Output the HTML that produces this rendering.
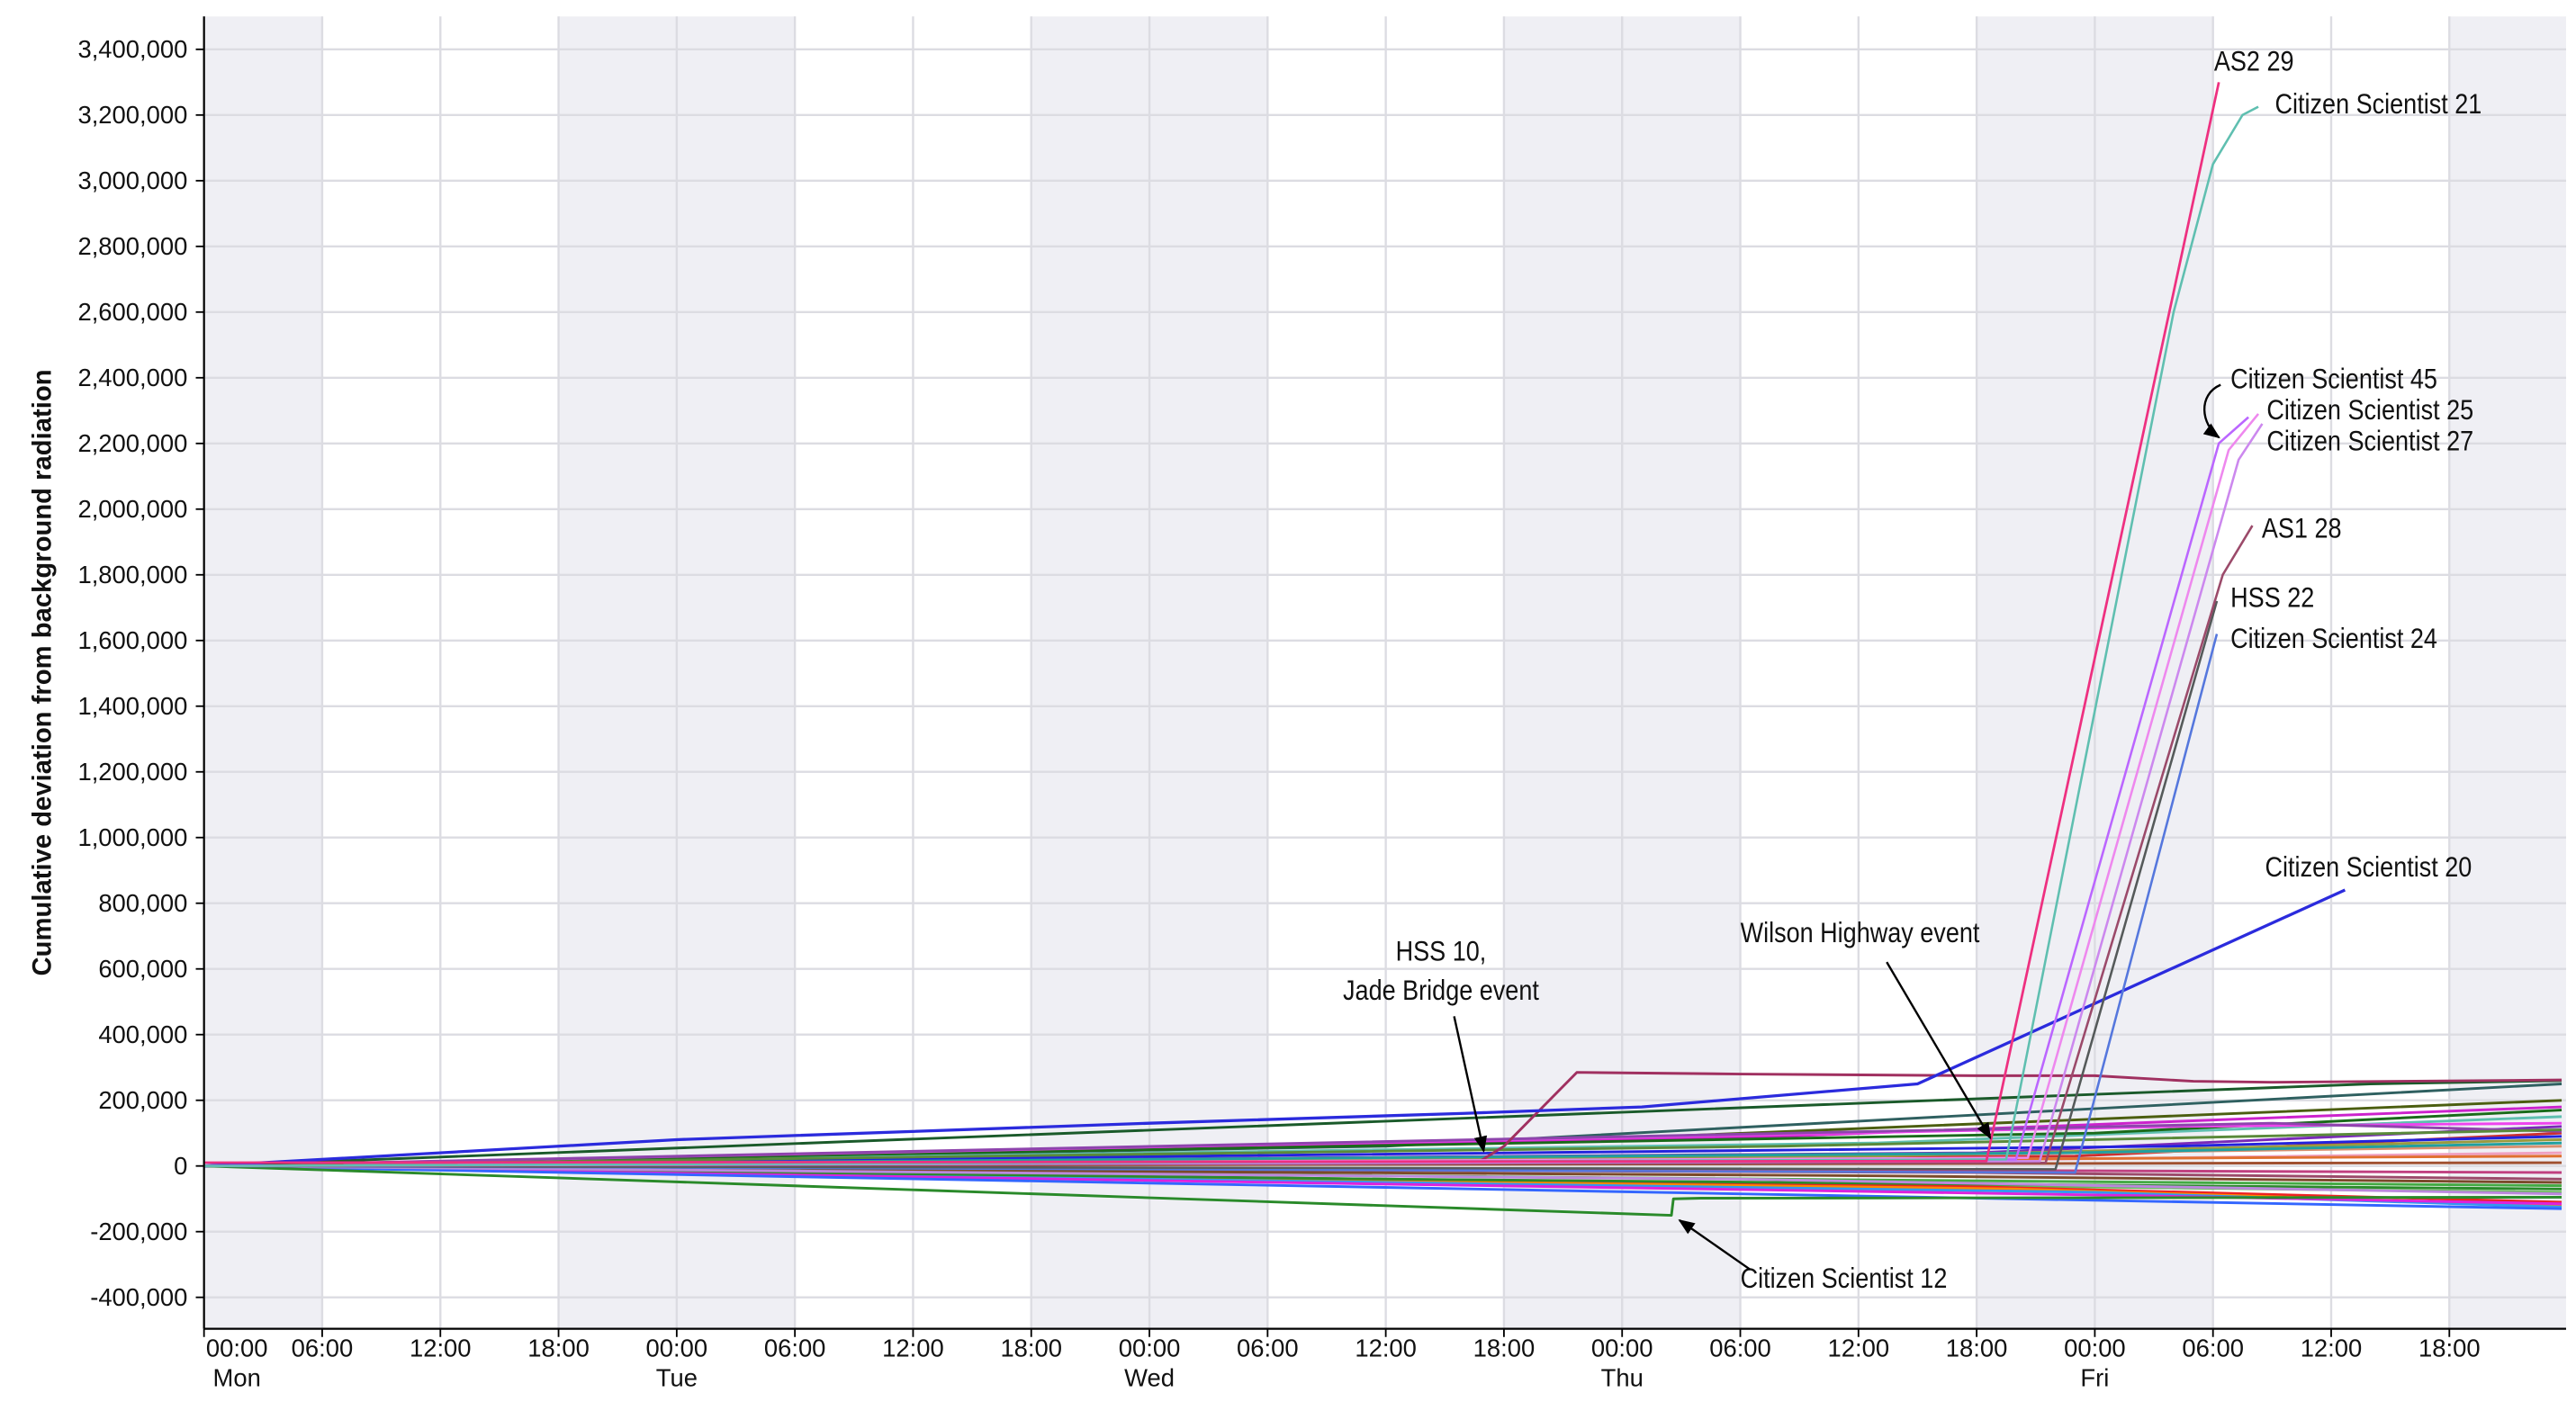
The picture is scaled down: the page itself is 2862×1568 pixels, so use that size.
<!DOCTYPE html>
<html><head><meta charset="utf-8"><style>
html,body{margin:0;padding:0;background:#fff}
svg{display:block}
text{font-family:"Liberation Sans",sans-serif}
.ann{font-family:"Liberation Sans Narrow","Liberation Sans",sans-serif;font-size:17px;fill:#111}
</style></head><body>
<svg id="chart" width="2862" height="1568" viewBox="0 0 1566 858" xmlns="http://www.w3.org/2000/svg">
<g id="bands"></g>
<g id="grid"></g>
<g id="series"></g>
<g id="axes"></g>
<g id="anns"></g>
</svg>
<script>
// ---- data ----
const yTicks = [-400000,-200000,0,200000,400000,600000,800000,1000000,1200000,1400000,1600000,1800000,2000000,2200000,2400000,2600000,2800000,3000000,3200000,3400000];
const xTickHours = [0,6,12,18,24,30,36,42,48,54,60,66,72,78,84,90,96,102,108,114];
const dayNames = ["Mon","Tue","Wed","Thu","Fri"];
const nightBands = [[0,6],[18,30],[42,54],[66,78],[90,102],[114,120]];
const cs20H = [0,24,48,64,73,78,87,108.7];
const cs20V = [0,80000,130000,160000,180000,205000,250000,840000];
const as2H = [0,90.5,102.3];
const as2V = [10000,15000,3300000];
const cs21H = [0,91.5,100,102,103.5,104.3];
const cs21V = [0,20000,2600000,3050000,3200000,3225000];
const cs45H = [0,92,102.3,103.8];
const cs45V = [0,20000,2200000,2280000];
const cs25H = [0,92.6,102.8,104.3];
const cs25V = [0,25000,2180000,2290000];
const cs27H = [0,93.2,103.3,104.5];
const cs27V = [0,15000,2150000,2260000];
const as1H = [0,93.5,102.5,104];
const as1V = [0,10000,1800000,1950000];
const hss22H = [0,94,102.2];
const hss22V = [0,-10000,1720000];
const cs24H = [0,95,102.2];
const cs24V = [0,-20000,1620000];
const hss10H = [0,64.8,66,69.7,78,90,96,101,105,119.7];
const hss10V = [0,15000,60000,285000,280000,275000,275000,258000,255000,262000];
const cs12H = [0,74.5,74.6,76,119.7];
const cs12V = [0,-150000,-100000,-98000,-95000];
const bgMidH = [60,70,80,85,90,95,100,60,75,88,92,96,70,80,85,90,60,96,100,105,65,75,95,88,80,98,92,85,78,110];
const bgMidV = [60000,80000,90000,70000,40000,30000,60000,-30000,-50000,-60000,-70000,-80000,20000,10000,30000,-20000,-40000,100000,120000,130000,5000,-10000,40000,20000,60000,-90000,-100000,-30000,-40000,250000];
const bgEndV = [250000,200000,180000,150000,120000,100000,90000,-60000,-80000,-110000,-120000,-125000,60000,40000,80000,-40000,-70000,170000,130000,105000,10000,-20000,70000,30000,110000,-115000,-130000,-50000,-85000,260000];
const bgColors = ["#2f6060","#4b5e10","#cc22cc","#5fbfb0","#7a2ab8","#cc3030","#2222dd","#44aa44","#66bb55","#ee2222","#ff8800","#3399ee","#d89070","#f0a0c0","#9a9a40","#9b4a6a","#2a8a2a","#1a6a1a","#ee44ee","#8e44ad","#a05030","#c04080","#20a0a0","#e07030","#5a8a3a","#dd22dd","#3366ff","#7a4a2a","#bb88dd","#1a5a2a"];

// ---- scales ----
const L=124,R=1560,T=10,B=808;
const xs = h => L + h*11.974;
const ys = v => 709 - v*(679/3400000);

const NS="http://www.w3.org/2000/svg";
function mk(tag, parent, attrs){const e=document.createElementNS(NS,tag);for(const k in attrs)e.setAttribute(k,attrs[k]);parent.appendChild(e);return e;}

const gB=document.getElementById('bands'), gG=document.getElementById('grid'), gS=document.getElementById('series'), gA=document.getElementById('axes'), gN=document.getElementById('anns');

nightBands.forEach(b=>{
  const r=mk('rect',gB,{x:xs(b[0]),y:T,width:Math.min(xs(b[1]),R)-xs(b[0]),height:B-T,fill:'#efeff4'});
  
  
});
yTicks.forEach(v=>{
  const l=mk('line',gG,{x1:L,x2:R,y1:ys(v),y2:ys(v),stroke:'#dcdce2','stroke-width':1.3});
  
  
});
xTickHours.forEach(h=>{
  const l=mk('line',gG,{x1:xs(h),x2:xs(h),y1:T,y2:B,stroke:'#dcdce2','stroke-width':1.3});
  
  
});

function path(H,V,color,w,name){
  let d='';H.forEach((h,i)=>{d+=(i?'L':'M')+xs(h).toFixed(1)+','+ys(V[i]).toFixed(1);});
  const p=mk('path',gS,{d:d,fill:'none',stroke:color,'stroke-width':w,'stroke-linejoin':'round'});
  
  
}
bgMidH.forEach((mh,i)=>{
  path([0,mh,119.7],[0,bgMidV[i],bgEndV[i]],bgColors[i],1.6,'background-series');
});
path(hss10H,hss10V,'#a03060',1.6,'series-hss-10');
path(cs12H,cs12V,'#2a8a2a',1.6,'series-citizen-scientist-12');
path(cs20H,cs20V,'#2b2bdd',1.8,'series-citizen-scientist-20');
path(cs24H,cs24V,'#5577dd',1.4,'series-citizen-scientist-24');
path(hss22H,hss22V,'#555a5a',1.4,'series-hss-22');
path(as1H,as1V,'#9b4a6a',1.4,'series-as1-28');
path(cs27H,cs27V,'#cc88ee',1.4,'series-citizen-scientist-27');
path(cs25H,cs25V,'#ee88ee',1.4,'series-citizen-scientist-25');
path(cs45H,cs45V,'#bb66ff',1.4,'series-citizen-scientist-45');
path(cs21H,cs21V,'#5fbfb0',1.4,'series-citizen-scientist-21');
path(as2H,as2V,'#ee3080',1.5,'series-as2-29');

// axes
mk('line',gA,{x1:L,x2:L,y1:T,y2:B,stroke:'#000','stroke-width':1.2});
mk('line',gA,{x1:L,x2:R,y1:B,y2:B,stroke:'#000','stroke-width':1.2});
yTicks.forEach(v=>{
  mk('line',gA,{x1:L-5,x2:L,y1:ys(v),y2:ys(v),stroke:'#000','stroke-width':1});
  const t=mk('text',gA,{x:L-10,y:ys(v)+5,'text-anchor':'end','font-size':15,fill:'#111'});
  t.textContent=v.toLocaleString('en-US');
  
  
});
xTickHours.forEach(h=>{
  mk('line',gA,{x1:xs(h),x2:xs(h),y1:B,y2:B+5,stroke:'#000','stroke-width':1});
  const hh=h%24;const lbl=(hh<10?'0':'')+hh+':00';
  const cx = h===0 ? xs(h)+20 : xs(h);
  const t=mk('text',gA,{x:cx,y:B+17,'text-anchor':'middle','font-size':15,fill:'#111'});
  t.textContent=lbl;
  
  
  if(hh===0){
    const d=mk('text',gA,{x:cx,y:B+35,'text-anchor':'middle','font-size':15,fill:'#111'});
    d.textContent=dayNames[h/24];
    
    
  }
});
const yt=mk('text',gA,{x:0,y:0,transform:'translate(31,409) rotate(-90)','text-anchor':'middle','font-size':16,'font-weight':'bold',fill:'#111'});
yt.textContent='Cumulative deviation from background radiation';



// annotations
const defs=mk('defs',document.getElementById('chart'),{});
const mkr=mk('marker',defs,{id:'ah',markerWidth:10,markerHeight:10,refX:9,refY:5,orient:'auto',markerUnits:'userSpaceOnUse'});
mk('path',mkr,{d:'M0,1 L10,5 L0,9 Z',fill:'#000'});
function ann(x,y,txt,name,anchor){
  const t=mk('text',gN,{x:0,y:0,'text-anchor':anchor||'start',class:'ann',transform:'translate('+x+','+y+') scale(0.87,1)'});
  t.textContent=txt;
  
  
}
ann(1346,43,'AS2 29','label-as2-29');
ann(1383,69,'Citizen Scientist 21','label-citizen-scientist-21');
ann(1356,236,'Citizen Scientist 45','label-citizen-scientist-45');
ann(1378,255,'Citizen Scientist 25','label-citizen-scientist-25');
ann(1378,274,'Citizen Scientist 27','label-citizen-scientist-27');
ann(1375,327,'AS1 28','label-as1-28');
ann(1356,369,'HSS 22','label-hss-22');
ann(1356,394,'Citizen Scientist 24','label-citizen-scientist-24');
ann(1377,533,'Citizen Scientist 20','label-citizen-scientist-20');
ann(1058,573,'Wilson Highway event','label-wilson-highway-event');
ann(876,584,'HSS 10,','label-hss-10','middle');
ann(876,608,'Jade Bridge event','label-jade-bridge-event','middle');
ann(1058,783,'Citizen Scientist 12','label-citizen-scientist-12');
function arrow(d,name){
  const p=mk('path',gN,{d:d,fill:'none',stroke:'#000','stroke-width':1.3,'marker-end':'url(#ah)'});
  
  
}
arrow('M884,618 L902,700','arrow-hss-10');
arrow('M1147,585 L1210,692','arrow-wilson-highway');
arrow('M1064,772 L1021,742','arrow-citizen-scientist-12');
arrow('M1350,234 C1336,240 1338,258 1349,266','arrow-citizen-scientist-45');
</script>
</body></html>
